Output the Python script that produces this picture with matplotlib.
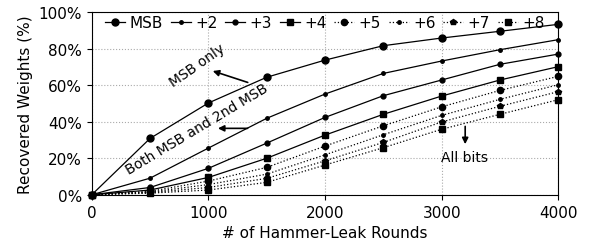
import matplotlib
matplotlib.use('Agg')
import matplotlib.pyplot as plt

rounds = [0, 500, 1000, 1500, 2000, 2500, 3000, 3500, 4000]

msb = [0, 30.9, 50.3, 64.4, 73.8, 81.7, 85.9, 89.6, 93.4]
bit2 = [0, 9.1, 25.6, 41.9, 55.2, 66.5, 73.3, 79.5, 85.0]
bit3 = [0, 4.0, 14.5, 28.3, 42.4, 54.3, 62.9, 71.5, 77.1]
bit4 = [0, 2.6, 9.5, 20.0, 32.7, 44.1, 54.1, 62.9, 70.2]
bit5 = [0, 1.9, 7.5, 15.0, 26.7, 37.8, 48.2, 57.2, 64.9]
bit6 = [0, 1.5, 5.6, 11.3, 21.9, 32.9, 43.5, 52.3, 60.3]
bit7 = [0, 1.2, 4.0, 9.0, 18.6, 28.7, 39.9, 48.5, 56.5]
bit8 = [0, 0.9, 2.6, 6.8, 16.3, 25.8, 35.9, 44.1, 52.1]

labels = ['MSB', '+2', '+3', '+4', '+5', '+6', '+7', '+8']
series = [msb, bit2, bit3, bit4, bit5, bit6, bit7, bit8]
markers = ['o', '.', 'o', 's', 'o', '.', 'p', 's']
msizes = [5, 5, 3.5, 4.5, 4.5, 5, 4, 4.5]
styles = ['-', '-', '-', '-', ':', ':', ':', ':']

fig = plt.figure(figsize=(5.92, 2.51), dpi=100)
ax = fig.add_axes([0.155, 0.22, 0.788, 0.727])

for vals, lab, m, ms, ls in zip(series, labels, markers, msizes, styles):
    ax.plot(rounds, vals, color='black', linestyle=ls, linewidth=0.9,
            marker=m, markersize=ms, label=lab, clip_on=False, zorder=3)

ax.set_xlim(0, 4000)
ax.set_ylim(0, 100)
ax.set_xticks([0, 1000, 2000, 3000, 4000])
ax.set_yticks([0, 20, 40, 60, 80, 100])
ax.set_yticklabels([f'{v}%' for v in [0, 20, 40, 60, 80, 100]])
ax.tick_params(labelsize=11)
ax.grid(True, linestyle=':', color='#aaaaaa', linewidth=0.8)
ax.set_xlabel('# of Hammer-Leak Rounds', fontsize=11)
ax.set_ylabel('Recovered Weights (%)', fontsize=11)

ax.legend(loc='upper center', ncol=8, frameon=False, fontsize=11,
          handlelength=1.3, columnspacing=0.5, handletextpad=0.3,
          borderaxespad=0.0, borderpad=0.2, bbox_to_anchor=(0.5, 1.0))

arrow = dict(arrowstyle='-|>', color='black', lw=1.2, mutation_scale=9)

ax.text(903, 71, 'MSB only', rotation=35, fontsize=10,
        ha='center', va='center')
ax.annotate('', xy=(1015, 68.3), xytext=(1360, 61.1), arrowprops=arrow)

ax.text(905, 36.5, 'Both MSB and 2nd MSB', rotation=31, fontsize=10,
        ha='center', va='center')
ax.annotate('', xy=(1058, 36.4), xytext=(1360, 36.4), arrowprops=arrow)

ax.text(3194, 20.6, 'All bits', fontsize=10, ha='center', va='center')
ax.annotate('', xy=(3202, 26.2), xytext=(3202, 39), arrowprops=arrow)

plt.savefig('out.png', dpi=100)
